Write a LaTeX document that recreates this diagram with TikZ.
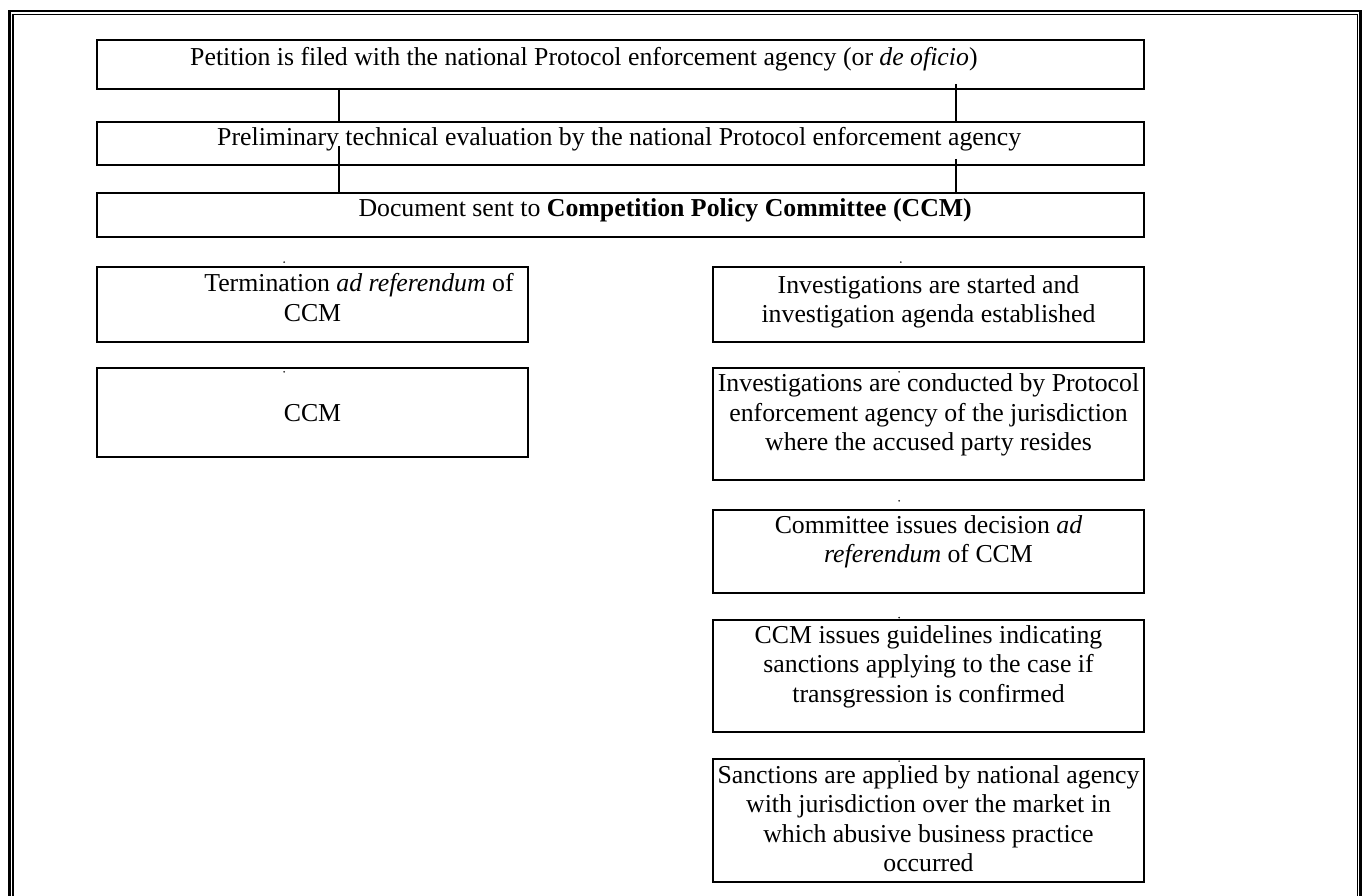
\documentclass[tikz,border=0pt]{standalone}
\usepackage{fontspec}
\setmainfont{Liberation Serif}
\usepackage{tikz}

\begin{document}
\begin{tikzpicture}[x=1pt, y=-1pt,
		box/.style={draw, line width=1.8pt, inner sep=0pt},
		link/.style={line width=1.8pt},
		txt/.style={inner sep=0pt, align=center, anchor=north, font=\fontsize{25.8}{29.3}\selectfont}]
			\useasboundingbox (0,0) rectangle (1363,896);
			\clip (0,0) rectangle (1363,896);
			\draw[line width=2.7pt] (9.7,920) -- (9.7,11) -- (1360.5,11) -- (1360.5,920);
			\draw[line width=1.4pt] (13,920) -- (13,14.7) -- (1357.7,14.7) -- (1357.7,920);

			\node[box, minimum width=1047pt, minimum height=49.3pt] (petition) at (620.5,64.65) {};
			\node[box, minimum width=1047pt, minimum height=43.3pt] (evaluation) at (620.5,143.35) {};
			\node[box, minimum width=1047pt, minimum height=44.6pt] (document) at (620.5,215) {};
			\node[box, minimum width=431pt, minimum height=75pt] (termination) at (312.5,304.5) {};
			\node[box, minimum width=431pt, minimum height=88.7pt] (ccm) at (312.5,412.65) {};
			\node[box, minimum width=431pt, minimum height=74.4pt] (started) at (928.5,304.5) {};
			\node[box, minimum width=431pt, minimum height=111.7pt] (conducted) at (928.5,424.15) {};
			\node[box, minimum width=431pt, minimum height=83.3pt] (decision) at (928.5,551.65) {};
			\node[box, minimum width=431pt, minimum height=111.7pt] (guidelines) at (928.5,675.85) {};
			\node[box, minimum width=431pt, minimum height=122.7pt] (sanctions) at (928.5,820.35) {};

			\node[txt, anchor=north west] (petition-t) at (190,44.5) {\strut Petition is filed with the national Protocol enforcement agency (or \textit{de oficio})};
			\node[txt, anchor=north west] (evaluation-t) at (217,124.5) {\strut Preliminary technical evaluation by the national Protocol enforcement agency};
			\node[txt, anchor=north west] (document-t) at (358.3,196.2) {\strut Document sent to \textbf{Competition Policy Committee (CCM)}};
			\node[txt] (termination-t) at (312.5,271.2) {\strut\hspace*{93pt}Termination \textit{ad referendum} of\\CCM};
			\node[txt] (ccm-t) at (312.5,401.2) {\strut CCM};
			\node[txt] (started-t) at (928.5,272.8) {\strut Investigations are started and\\investigation agenda established};
			\node[txt] (conducted-t) at (928.5,371.2) {\strut Investigations are conducted by Protocol\\enforcement agency of the jurisdiction\\where the accused party resides};
			\node[txt] (decision-t) at (928.5,512.8) {\strut Committee issues decision \textit{ad}\\\textit{referendum} of CCM};
			\node[txt] (guidelines-t) at (928.5,622.8) {\strut CCM issues guidelines indicating\\sanctions applying to the case if\\transgression is confirmed};
			\node[txt] (sanctions-t) at (928.5,762.8) {\strut Sanctions are applied by national agency\\with jurisdiction over the market in\\which abusive business practice\\occurred};

			\draw[link] ([xshift=242.5pt, yshift=2.3pt]petition.south west) -- ([xshift=242.5pt, yshift=-1.6pt]evaluation.north west);
			\draw[link] ([xshift=859.7pt, yshift=6.3pt]petition.south west) -- ([xshift=859.7pt]evaluation.north west);
			\draw[link] ([xshift=243pt, yshift=20pt]evaluation.south west) -- ([xshift=243pt]document.north west);
			\draw[link] ([xshift=859.7pt, yshift=7pt]evaluation.south west) -- ([xshift=859.7pt, yshift=-2.3pt]document.north west);

			\foreach \b/\dx/\dy in {termination/188/4, ccm/188/-4.4, started/188.7/4.3, conducted/187/-4.4, decision/187/8.3, guidelines/187/1.5, sanctions/187/-3}{
				\fill ([xshift=\dx pt, yshift=\dy pt]\b.north west) circle (0.9pt);
			}
		\end{tikzpicture}
\end{document}
